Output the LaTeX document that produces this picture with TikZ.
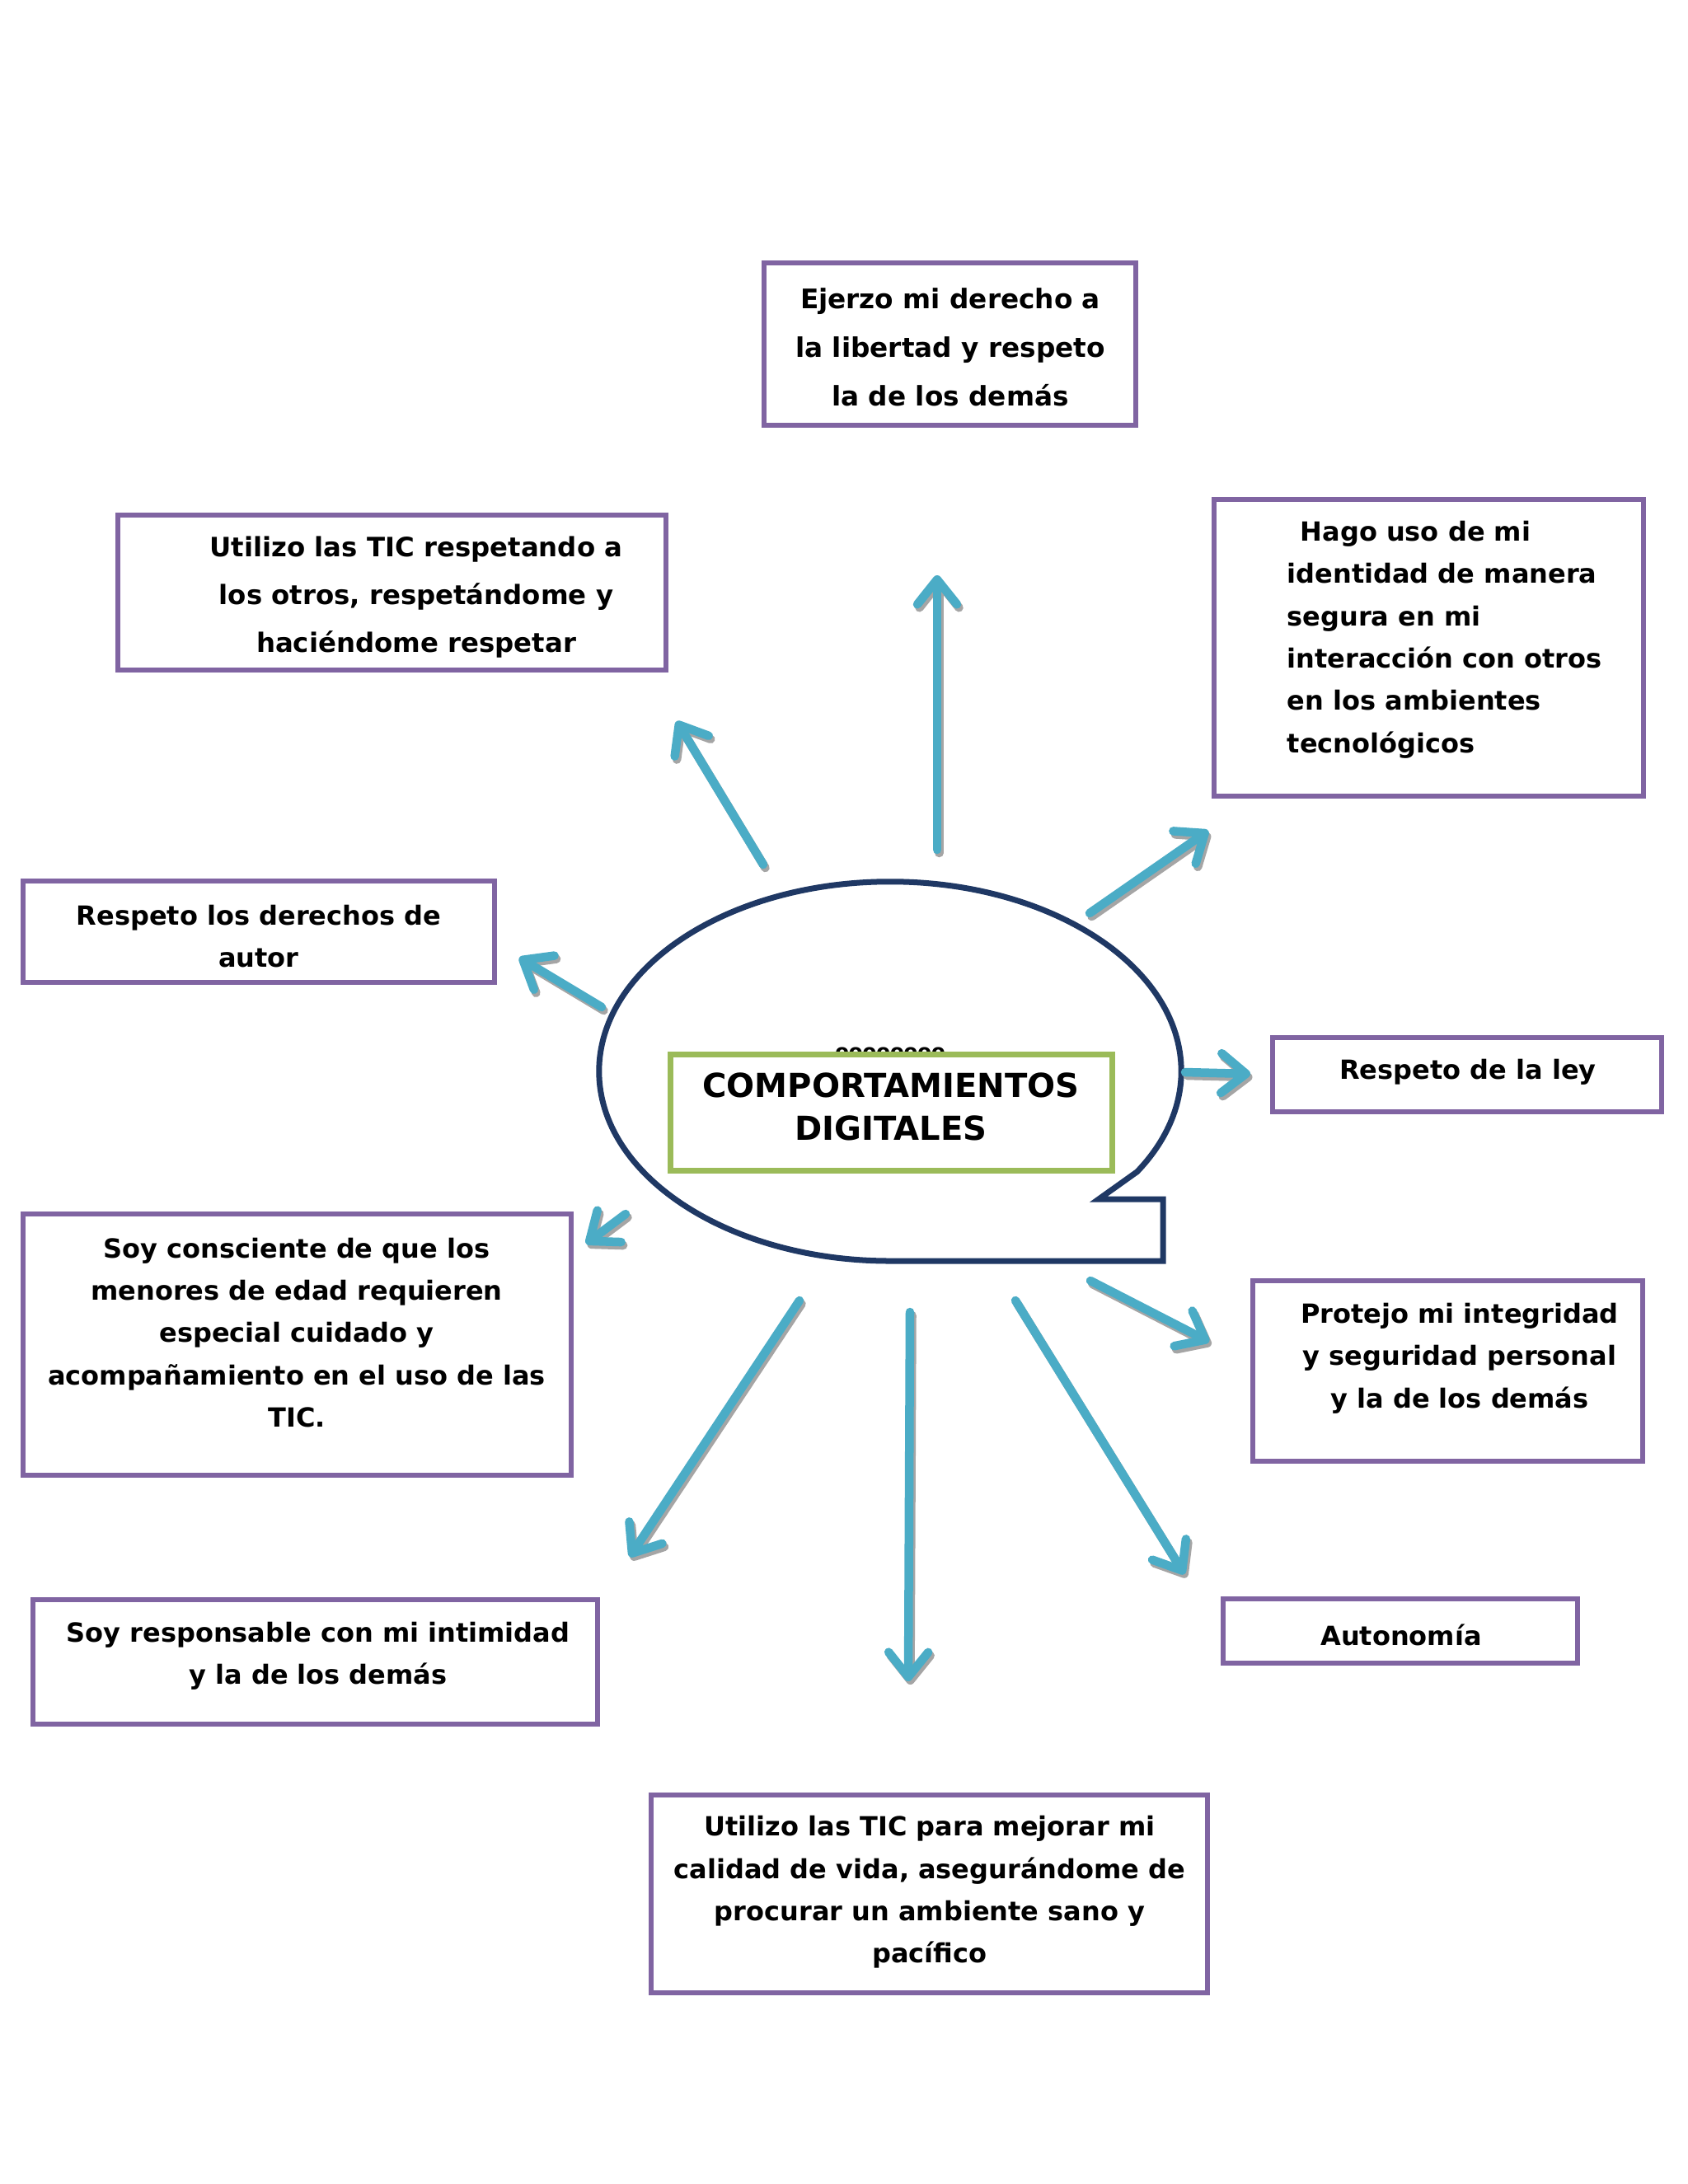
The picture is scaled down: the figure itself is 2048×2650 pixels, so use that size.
\documentclass[tikz,border=0pt]{standalone}
\usepackage{fontspec}
\setmainfont{DejaVu Sans}
\usetikzlibrary{arrows.meta}
\definecolor{boxpurple}{RGB}{128,100,162}
\definecolor{arrblue}{RGB}{75,172,198}
\definecolor{shadowgray}{RGB}{165,165,165}
\definecolor{boxgreen}{RGB}{155,187,89}
\definecolor{navy}{RGB}{31,56,100}
\tikzset{
  pbox/.style={draw=boxpurple, line width=0.06cm, fill=white, rectangle, inner sep=0pt},
  txt/.style={font=\fontsize{9.1}{14.6}\selectfont\bfseries, inner sep=0pt, align=center},
  arrtip/.style={-{Straight Barb[length=0.3cm, width=0.48cm, round]}},
  arrmain/.style={arrtip, line width=0.105cm, draw=arrblue, line cap=round},
  arrshadow/.style={arrtip, line width=0.105cm, draw=shadowgray, line cap=round, transform canvas={shift={(0.025cm,-0.04cm)}}}
}
\newcommand\shadowarrow[2]{\draw[arrshadow] (#1) -- (#2); \draw[arrmain] (#1) -- (#2);}
\begin{document}
\begin{tikzpicture}[x=0.01cm, y=-0.01cm]
\fill[white] (0,0) rectangle (2048,2650);
\useasboundingbox (0,0) rectangle (2048,2650);

% purple boxes
\node[pbox, minimum width=4.51cm, minimum height=1.97cm] (b1) at (1152.5,417.5) {};
\node[pbox, minimum width=6.65cm, minimum height=1.88cm] (b2) at (475.5,719) {};
\node[pbox, minimum width=5.21cm, minimum height=3.60cm] (b3) at (1733.5,786) {};
\node[pbox, minimum width=5.72cm, minimum height=1.23cm] (b4) at (314,1130.5) {};
\node[pbox, minimum width=4.72cm, minimum height=0.90cm] (b5) at (1780,1304) {};
\node[pbox, minimum width=6.65cm, minimum height=3.17cm] (b6) at (360.5,1631.5) {};
\node[pbox, minimum width=4.73cm, minimum height=2.19cm] (b7) at (1756.5,1663.5) {};
\node[pbox, minimum width=6.85cm, minimum height=1.51cm] (b8) at (382.5,2016.5) {};
\node[pbox, minimum width=4.30cm, minimum height=0.78cm] (b9) at (1699,1979) {};
\node[pbox, minimum width=6.75cm, minimum height=2.40cm] (b10) at (1127.5,2298) {};

% texts
\node[txt, font=\fontsize{9.3}{16.8}\selectfont\bfseries] (t1) at (1153,421) {Ejerzo mi derecho a\\la libertad y respeto\\la de los demás};
\node[txt, font=\fontsize{9.2}{16.5}\selectfont\bfseries] (t2) at (505,725) {Utilizo las TIC respetando a\\los otros, respetándome y\\haciéndome respetar};
\node[txt, align=left, anchor=west] (t3) at (1561,776) {\hspace{0.16cm}Hago uso de mi\\identidad de manera\\segura en mi\\interacción con otros\\en los ambientes\\tecnológicos};
\node[txt] (t4) at (314,1136) {Respeto los derechos de\\autor};
\node[txt] (t5) at (1781,1301) {Respeto de la ley};
\node[txt] (t6) at (360,1617) {Soy consciente de que los\\menores de edad requieren\\especial cuidado y\\acompañamiento en el uso de las\\TIC.};
\node[txt] (t7) at (1771,1648) {Protejo mi integridad\\y seguridad personal\\y la de los demás};
\node[txt] (t8) at (386,2009) {Soy responsable con mi intimidad\\y la de los demás};
\node[txt] (t9) at (1700,1984) {Autonomía};
\node[txt] (t10) at (1128,2296) {Utilizo las TIC para mejorar mi\\calidad de vida, asegurándome de\\procurar un ambiente sano y\\pacífico};

% central callout
\draw[navy, line width=0.07cm, fill=white, line join=miter] (1080,1530)
  arc[start angle=270, end angle=-32, x radius=3.53cm, y radius=2.30cm]
  -- (1333,1455) -- (1411,1455) -- (1411,1530) -- cycle;
\node[font=\fontsize{6.9}{8}\selectfont\bfseries, inner sep=0pt, anchor=base] (oo) at (1080,1284) {oooooooo};
\node[draw=boxgreen, line width=0.07cm, fill=white, minimum width=5.35cm, minimum height=1.40cm, inner sep=0pt] (title) at (1081.5,1350) {};
\node[font=\fontsize{11.4}{15}\selectfont\bfseries, inner sep=0pt, align=center] (ttl) at (1081,1343) {COMPORTAMIENTOS\\DIGITALES};

% arrow end points
\coordinate (a1s) at (1137,1031); \coordinate (a1e) at (1137,698);
\coordinate (a2s) at (926,1049);  \coordinate (a2e) at (821,875);
\coordinate (a3s) at (1322,1108); \coordinate (a3e) at (1466,1008);
\coordinate (a4s) at (730,1222);  \coordinate (a4e) at (630,1162);
\coordinate (a5s) at (1438,1301); \coordinate (a5e) at (1517,1303);
\coordinate (a6s) at (759,1473);  \coordinate (a6e) at (711,1509);
\coordinate (a7s) at (1323,1554); \coordinate (a7e) at (1467,1628);
\coordinate (a8s) at (970,1578);  \coordinate (a8e) at (764,1889);
\coordinate (a9s) at (1104,1592); \coordinate (a9e) at (1102,2040);
\coordinate (a10s) at (1232,1578); \coordinate (a10e) at (1437,1910);

\shadowarrow{a1s}{a1e}
\shadowarrow{a2s}{a2e}
\shadowarrow{a3s}{a3e}
\shadowarrow{a4s}{a4e}
\shadowarrow{a5s}{a5e}
\shadowarrow{a6s}{a6e}
\shadowarrow{a7s}{a7e}
\shadowarrow{a8s}{a8e}
\shadowarrow{a9s}{a9e}
\shadowarrow{a10s}{a10e}
\end{tikzpicture}
\end{document}
